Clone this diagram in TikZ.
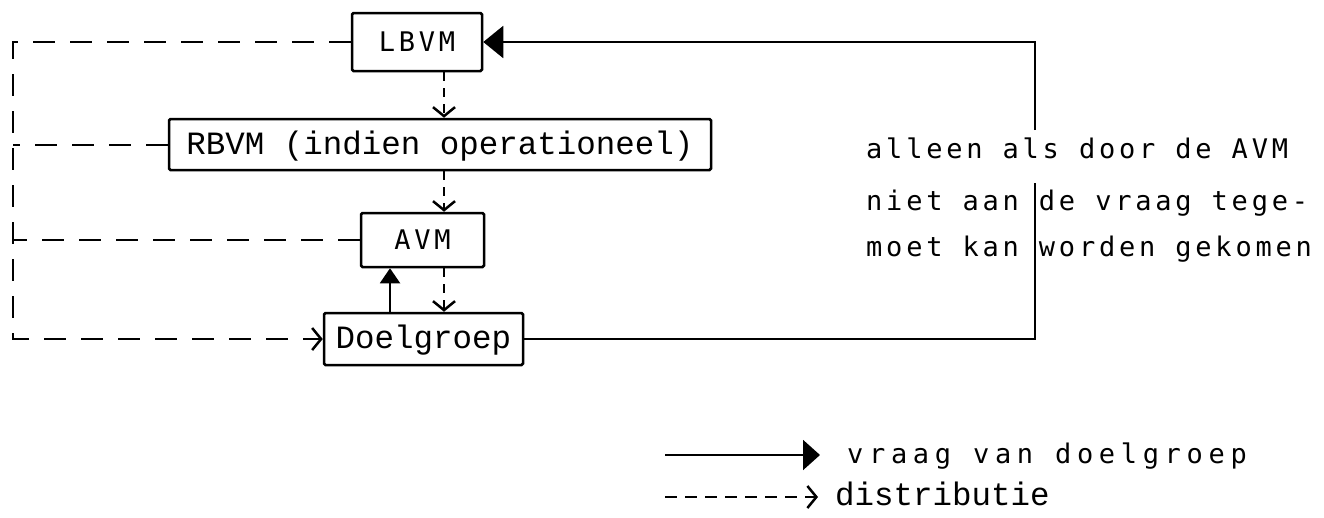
\documentclass[tikz,border=0pt]{standalone}
\usepackage{fontspec}
\usepackage{tikz}
\usetikzlibrary{arrows.meta, positioning, calc}
\newfontfamily\courfont{Liberation Mono}
\newfontfamily\gothfont{DejaVu Sans Mono}[LetterSpace=14]
\newfontfamily\legfont{DejaVu Sans Mono}[LetterSpace=21]

\begin{document}
\begin{tikzpicture}[x=1pt, y=-1pt,
  box/.style={draw, line width=2.5pt, rounded corners=1.5pt, inner sep=0pt, text depth=0pt},
  cour/.style={font=\courfont\fontsize{32.5}{36}\selectfont, text height=19pt},
  goth/.style={font=\gothfont\fontsize{27}{30}\selectfont, text height=19.7pt},
  note/.style={font=\gothfont\fontsize{27}{30}\selectfont, anchor=base west, inner sep=0pt},
  vraag/.style={line width=2pt},
  distr/.style={line width=2pt, dash pattern=on 22pt off 15pt},
  distarrow/.style={line width=2pt, dash pattern=on 9pt off 7pt,
    -{Straight Barb[length=9pt,width=22pt,line width=2.5pt]}}]
  \useasboundingbox (0,0) rectangle (1324,517);

  % the four levels
  \node[box, goth, minimum width=130pt, minimum height=58pt] (lbvm) at (417,42) {LBVM};
  \node[box, cour, minimum width=542pt, minimum height=51pt] (rbvm) at (440,144.5) {RBVM (indien operationeel)};
  \node[box, goth, minimum width=123pt, minimum height=54pt] (avm) at (422.5,240) {AVM};
  \node[box, cour, minimum width=199pt, minimum height=52pt] (doel) at (423.5,339) {Doelgroep};

  % helper columns
  \coordinate (down) at (444,0);
  \coordinate (up) at (390,0);
  \coordinate (frame) at (13,339);
  \coordinate (loop) at (1035,0);
  \coordinate (gaplow) at (1035,183);
  \coordinate (gaphigh) at (1035,130);

  % distributie downwards
  \draw[distarrow] (lbvm.south -| down) -- (rbvm.north -| down);
  \draw[distarrow] (rbvm.south -| down) -- (avm.north -| down);
  \draw[distarrow] (avm.south -| down) -- (doel.north -| down);

  % distributie along the left side
  \draw[distr, -{Straight Barb[length=9pt,width=22pt,line width=2.5pt]}]
    (lbvm.west) -| (frame) -- (doel.west);
  \draw[distr] (rbvm.west) -- (rbvm.west -| frame);
  \draw[distr] (avm.west) -- (avm.west -| frame);

  % vraag van doelgroep
  \draw[vraag, -{Triangle[length=15pt,width=20pt]}] (doel.north -| up) -- (avm.south -| up);
  \draw[vraag] (doel.east) -- (doel.east -| loop) -- (gaplow);
  \draw[vraag, -{Triangle[length=20pt,width=32pt]}] (gaphigh) -- (lbvm.east -| loop) -- (lbvm.east);

  % side note
  \node[note] (note1) at (866,158) {alleen als door de AVM};
  \node[note] (note2) at (866,210) {niet aan de vraag tege-};
  \node[note] (note3) at (866,256) {moet kan worden gekomen};

  % legend
  \coordinate (legA) at (665,455);
  \coordinate (legB) at (820,455);
  \coordinate (legC) at (665,497);
  \coordinate (legD) at (818,497);
  \draw[vraag, -{Triangle[length=17pt,width=30pt]}] (legA) -- (legB);
  \draw[line width=2pt, dash pattern=on 12pt off 8pt,
    -{Straight Barb[length=9pt,width=22pt,line width=2.5pt]}] (legC) -- (legD);
  \node[font=\legfont\fontsize{27}{30}\selectfont, anchor=base west, inner sep=0pt] (legvraag) at (847,463) {vraag van doelgroep};
  \node[font=\courfont\fontsize{32.5}{36}\selectfont, anchor=base west, inner sep=0pt] (legdistr) at (835,505) {distributie};
\end{tikzpicture}
\end{document}
